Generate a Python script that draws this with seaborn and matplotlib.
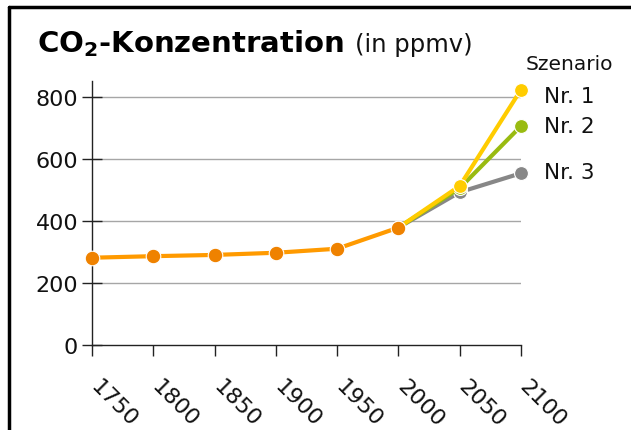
import matplotlib
matplotlib.use("Agg")
import matplotlib.pyplot as plt
import matplotlib.transforms as mtransforms
import seaborn as sns
import pandas as pd
from matplotlib.lines import Line2D

# ---- data ----
hist_years = [1750, 1800, 1850, 1900, 1950, 2000]
hist_values = [281, 286, 290, 297, 310, 378]
scen_years = [2000, 2050, 2100]
scen1_values = [378, 512, 822]
scen2_values = [378, 505, 705]
scen3_values = [378, 492, 553]
x_ticks = [1750, 1800, 1850, 1900, 1950, 2000, 2050, 2100]
y_ticks = [0, 200, 400, 600, 800]
scen_labels = ["Nr. 1", "Nr. 2", "Nr. 3"]

sns.set_theme(style="white")
plt.rcParams['font.family'] = ['DejaVu Sans']

fig = plt.figure(figsize=(6.31, 4.31), dpi=100)
ax = fig.add_axes([92/631, 1-346/431, (521-92)/631, (346-82)/431])

hist = pd.DataFrame({"Jahr": hist_years, "ppmv": hist_values})
s1 = pd.DataFrame({"Jahr": scen_years, "ppmv": scen1_values})
s2 = pd.DataFrame({"Jahr": scen_years, "ppmv": scen2_values})
s3 = pd.DataFrame({"Jahr": scen_years, "ppmv": scen3_values})

for y in y_ticks[1:]:
    ax.axhline(y, color="#a6a6a6", lw=1.0, zorder=0)

common = dict(x="Jahr", y="ppmv", ax=ax, marker="o", markersize=10,
              markeredgecolor="white", markeredgewidth=0.8, linewidth=3, clip_on=False)
sns.lineplot(data=s3, color="#878787", zorder=3, **common)
sns.lineplot(data=s2, color="#99bb11", zorder=4, **common)
sns.lineplot(data=s1, color="#ffcc00", zorder=5, **common)
sns.lineplot(data=hist, color="#ff9a00", zorder=6, x="Jahr", y="ppmv", ax=ax,
             linewidth=3, clip_on=False)
sns.scatterplot(data=hist, x="Jahr", y="ppmv", ax=ax, color="#ef8200", s=110,
                edgecolor="white", linewidth=0.8, zorder=7, clip_on=False)

ax.set_xlim(1750, 2100)
ax.set_ylim(0, 850)
ax.set_xticks(x_ticks)
ax.set_yticks(y_ticks)
ax.set_xticklabels([str(t) for t in x_ticks], rotation=-45, ha="left",
                   rotation_mode="anchor", fontsize=16, color="#111111")
ax.set_yticklabels([str(t) for t in y_ticks], fontsize=16, color="#111111")
ax.set_xlabel("")
ax.set_ylabel("")
for s in ["top", "right"]:
    ax.spines[s].set_visible(False)
for s in ["left", "bottom"]:
    ax.spines[s].set_color("#222222")
    ax.spines[s].set_linewidth(1.0)
ax.tick_params(axis="y", direction="inout", length=14, width=1, color="#222222", pad=3, left=True)
ax.tick_params(axis="x", direction="out", length=8, width=1, color="#222222", pad=14, bottom=True)
ax.spines["bottom"].set_bounds(1750, 2100)
shift = mtransforms.ScaledTranslation(9/100, 0, fig.dpi_scale_trans)
for lbl in ax.get_xticklabels():
    lbl.set_transform(lbl.get_transform() + shift)

# legend-like labels
fig.text(526/631, 1-65/431, "Szenario", fontsize=14.5, va="center", ha="left", color="#111111")
for lab, yp in zip(scen_labels, [97, 127, 173]):
    fig.text(544/631, 1-yp/431, lab, fontsize=15.5, va="center", ha="left", color="#111111")

# title
fig.text(37/631, 1-44/431, r"CO$_\mathbf{2}$-Konzentration", fontsize=21, fontweight="bold",
         va="center", ha="left", color="#000000")
fig.text(355/631, 1-45/431, "(in ppmv)", fontsize=17.5, va="center", ha="left", color="#111111")

# frame lines (top and left)
fig.add_artist(Line2D([9/631, 1], [1-8/431, 1-8/431], color="black", lw=2.5, transform=fig.transFigure))
fig.add_artist(Line2D([9/631, 9/631], [0, 1-8/431], color="black", lw=2.5, transform=fig.transFigure))

fig.savefig("out.png", dpi=100)
